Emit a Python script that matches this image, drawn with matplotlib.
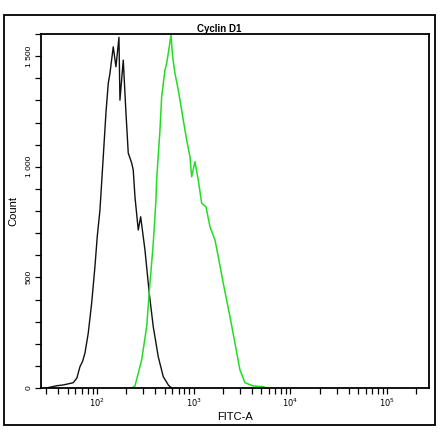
import matplotlib
matplotlib.use("Agg")
import matplotlib.pyplot as plt
from matplotlib.patches import Rectangle
from matplotlib.ticker import FixedLocator, MultipleLocator, LogLocator, NullFormatter

plt.rcParams['font.family'] = ['Liberation Sans', 'DejaVu Sans']

title = "Cyclin D1"
xlabel = "FITC-A"
ylabel = "Count"

# Isotype / control histogram (black)
ctrl_x = [30, 38.3, 45, 52, 56.9, 62, 66.7, 71, 75.2, 81.3, 88.2, 95.3, 100.7, 107.4, 116.2, 123.9, 130.9,
          136.3, 147.4, 157.2, 168.9, 172.9, 187.1, 199.5, 210.7, 228.5, 237.3, 247.2,
          267.4, 283.1, 313.6, 347.4, 382.1, 430.5, 484.9, 546.2, 568.7, 600]
ctrl_y = [0, 10, 14, 20, 24, 45, 96, 120, 158, 248, 384, 548, 684, 804, 1045, 1243, 1377,
          1422, 1542, 1452, 1585, 1301, 1482, 1243, 1062, 1017, 985, 864,
          714, 774, 624, 428, 277, 141, 51, 14, 6, 0]

# Cyclin D1 stained histogram (green)
stain_x = [230, 247.2, 290, 326.6, 353.2, 382.1, 407.4, 414, 448.2, 466.7, 504.9, 525.9,
           559.4, 582.4, 606.6, 640.7, 692.9, 751.4, 780.5, 846.5, 915.6, 953.5, 1031,
           1116, 1210, 1341, 1474, 1661, 1797, 2024, 2374, 2674, 3011, 3393, 4134, 5245, 5600]
stain_y = [0, 9, 127, 277, 473, 654, 850, 940, 1166, 1316, 1437, 1467,
           1542, 1595, 1497, 1422, 1347, 1256, 1211, 1121, 1045, 955, 1023,
           940, 835, 819, 729, 669, 593, 473, 322, 202, 81, 24, 9, 6, 0]

fig = plt.figure(figsize=(4.4, 4.41), dpi=100)
ax = fig.add_axes([41/440, 1-388/441, (429-41)/440, (388-34)/441])

ax.plot(ctrl_x, ctrl_y, color='#111111', lw=1.0)
ax.plot(stain_x, stain_y, color='#22dd22', lw=1.1)

ax.set_xscale('log')
ax.set_xlim(26.4, 271000)
ax.set_ylim(0, 1600)

ax.xaxis.set_major_locator(FixedLocator([1e2, 1e3, 1e4, 1e5]))
ax.xaxis.set_minor_locator(LogLocator(base=10, subs=range(2, 10), numticks=20))
ax.xaxis.set_minor_formatter(NullFormatter())
ax.set_xticklabels([r'$10^2$', r'$10^3$', r'$10^4$', r'$10^5$'])

ax.yaxis.set_major_locator(FixedLocator([0, 500, 1000, 1500]))
ax.yaxis.set_minor_locator(MultipleLocator(100))
ax.set_yticklabels(['0', '500', '1 000', '1 500'], rotation=90, va='center')

ax.tick_params(axis='both', which='both', direction='out', width=0.9, labelsize=6, pad=2)
ax.tick_params(axis='both', which='major', length=4)
ax.tick_params(axis='both', which='minor', length=4)

for s in ax.spines.values():
    s.set_linewidth(1.3)

ax.set_xlabel(xlabel, fontsize=8, labelpad=2)
ax.set_ylabel(ylabel, fontsize=8, labelpad=5)
fig.text(219/440, 1-29/441, title, ha='center', va='center', fontsize=7, fontweight='bold')

fig.patches.append(Rectangle((4/440, 1-425/441), 431/440, 410/441, transform=fig.transFigure,
                             fill=False, edgecolor='black', lw=1.3))

fig.savefig('out.png', dpi=100)
